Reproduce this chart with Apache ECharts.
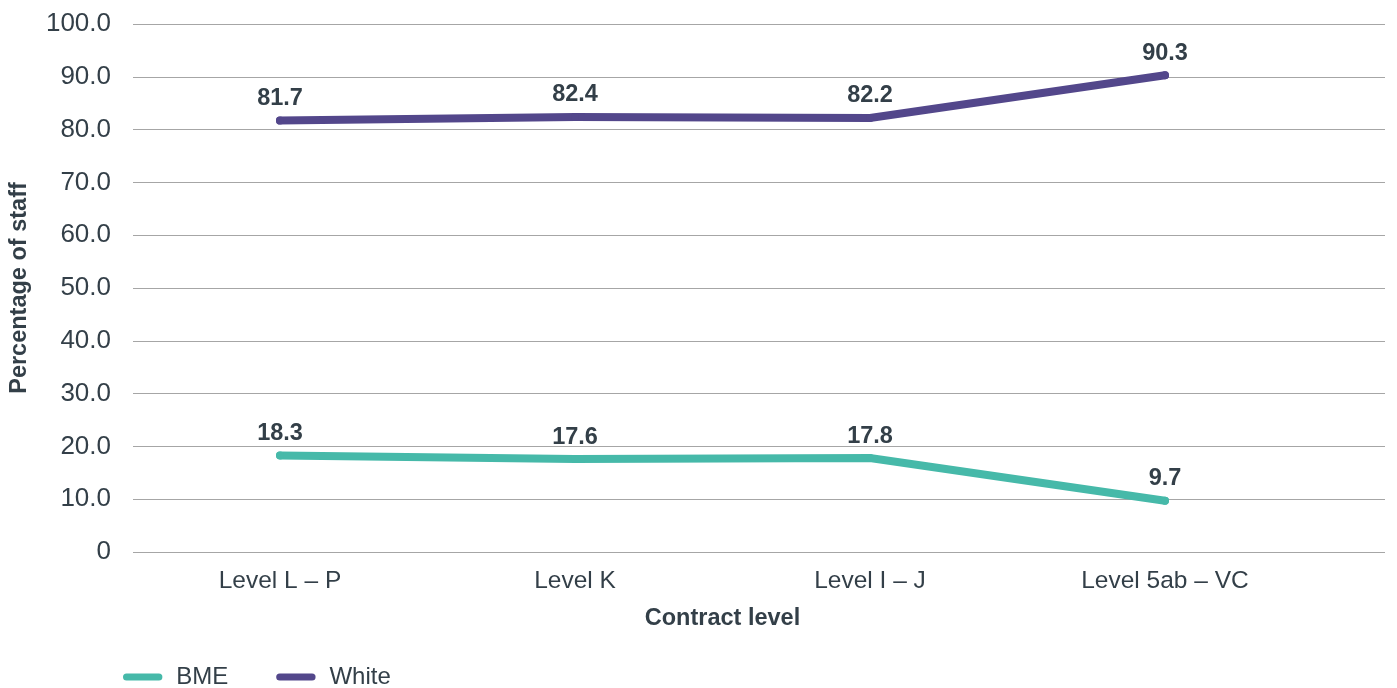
<!DOCTYPE html>
<html>
<head>
<meta charset="utf-8">
<title>Percentage of staff by contract level</title>
<script src="https://cdn.jsdelivr.net/npm/echarts@6/dist/echarts.min.js"></script>
<style>
  html, body { margin: 0; padding: 0; background: #ffffff; }
  #chart { width: 1397px; height: 688px; }
</style>
</head>
<body>
<div id="chart"></div>
<script>
// Contract levels along the x-axis
const categories = ['Level L \u2013 P', 'Level K', 'Level I \u2013 J', 'Level 5ab \u2013 VC'];

// Share of staff (%) at each level
const bmeValues = [18.3, 17.6, 17.8, 9.7];
const whiteValues = [81.7, 82.4, 82.2, 90.3];

// Y-axis scale
const yMin = 0;
const yMax = 100;
const yStep = 10;

const textColor = '#333f48';
const gridColor = '#a6a6a6';
const bmeColor = '#46b9a9';
const whiteColor = '#53478b';
const fontFamily = '"Liberation Sans", Arial, Helvetica, sans-serif';

const chart = echarts.init(document.getElementById('chart'), null, { renderer: 'canvas' });

// rounded bar used as the legend key
const pill = 'path://M4,0 L41,0 A4,4 0 0 1 41,8 L4,8 A4,4 0 0 1 4,0 Z';

function lineSeries(name, values, color) {
  return {
    name: name,
    type: 'line',
    xAxisIndex: 0,
    yAxisIndex: 0,
    data: values,
    smooth: false,
    symbol: 'circle',
    symbolSize: 8,
    itemStyle: { color: color },
    lineStyle: { color: color, width: 8, cap: 'round', join: 'miter' },
    label: {
      show: true,
      position: 'top',
      distance: 6,
      color: textColor,
      fontSize: 23.5,
      fontWeight: 'bold',
      fontFamily: fontFamily,
      formatter: p => p.value.toFixed(1)
    },
    emphasis: { disabled: true },
    animation: false
  };
}

chart.setOption({
  backgroundColor: '#ffffff',
  animation: false,
  textStyle: { fontFamily: fontFamily },
  grid: [
    // plotting area for the lines
    { left: 132.5, right: 84.5, top: 24, bottom: 136 },
    // wider area carrying the value scale and gridlines
    { left: 131, right: 12, top: 24, bottom: 136 }
  ],
  legend: {
    left: 123,
    top: 665,
    padding: 0,
    itemWidth: 45,
    itemHeight: 7,
    itemGap: 48,
    icon: pill,
    textStyle: { color: textColor, fontSize: 24, fontFamily: fontFamily, padding: [0, 0, 0, 6] },
    data: ['BME', 'White']
  },
  xAxis: [
    {
      type: 'category',
      gridIndex: 0,
      data: categories,
      boundaryGap: true,
      axisLine: { show: false },
      axisTick: { show: false },
      axisLabel: { color: textColor, fontSize: 24.5, margin: 17, fontFamily: fontFamily },
      splitLine: { show: false },
      name: 'Contract level',
      nameLocation: 'middle',
      nameGap: 55,
      nameTextStyle: { color: textColor, fontSize: 23.5, fontWeight: 'bold', fontFamily: fontFamily }
    },
    {
      type: 'value',
      gridIndex: 1,
      show: false
    }
  ],
  yAxis: [
    {
      type: 'value',
      gridIndex: 0,
      min: yMin,
      max: yMax,
      interval: yStep,
      show: false
    },
    {
      type: 'value',
      gridIndex: 1,
      min: yMin,
      max: yMax,
      interval: yStep,
      axisLine: { show: false },
      axisTick: { show: false },
      axisLabel: {
        color: textColor,
        fontSize: 26,
        margin: 22,
        fontFamily: fontFamily,
        formatter: v => (v === 0 ? '0' : v.toFixed(1))
      },
      splitLine: { show: true, lineStyle: { color: gridColor, width: 1 } },
      name: 'Percentage of staff',
      nameLocation: 'middle',
      nameGap: 101,
      nameTextStyle: { color: textColor, fontSize: 23.5, fontWeight: 'bold', fontFamily: fontFamily }
    }
  ],
  series: [
    lineSeries('BME', bmeValues, bmeColor),
    lineSeries('White', whiteValues, whiteColor)
  ]
});
</script>
</body>
</html>
